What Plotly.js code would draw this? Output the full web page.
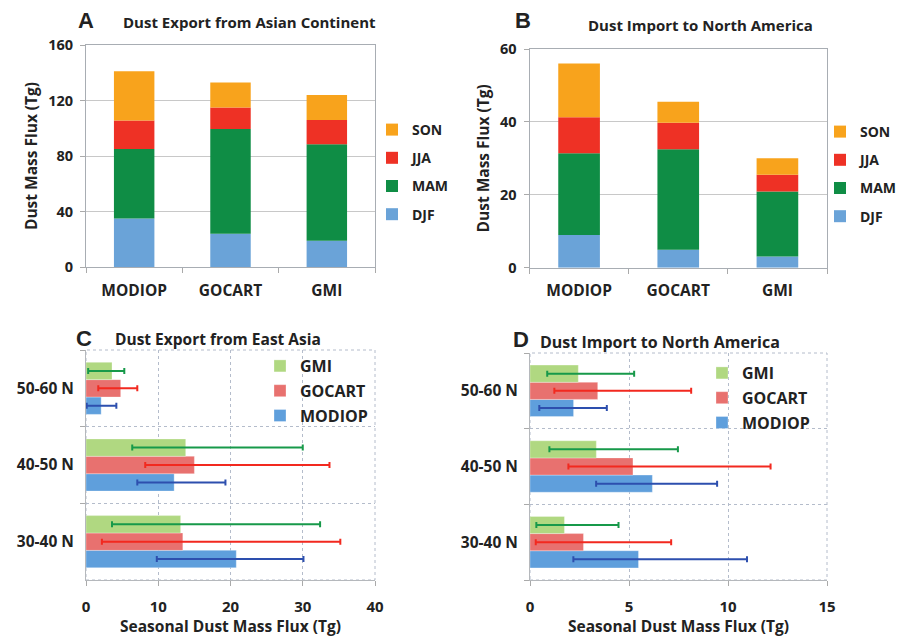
<!DOCTYPE html>
<html><head><meta charset="utf-8">
<script src="https://cdn.plot.ly/plotly-3.0.1.min.js"></script>
<style>html,body{margin:0;padding:0;background:#fff}#chart{width:915px;height:637px}</style>
</head><body><div id="chart"></div>
<script>
// ---- data ----
const models = ['MODIOP', 'GOCART', 'GMI'];
const seasonNames = ['DJF', 'MAM', 'JJA', 'SON'];
const exportDJF = [35, 24, 19];
const exportMAM = [50, 75.5, 69.5];
const exportJJA = [20.5, 15.5, 17.5];
const exportSON = [35.5, 18, 18];
const importDJF = [9, 4.9, 3.1];
const importMAM = [22.4, 27.6, 17.8];
const importJJA = [9.9, 7.3, 4.6];
const importSON = [14.7, 5.7, 4.5];

const latBands = ['30-40 N', '40-50 N', '50-60 N'];
// panel C (Dust Export from East Asia)
const eastAsiaMODIOP = [20.8, 12.2, 2.1];
const eastAsiaMODIOPplus = [9.3, 7.1, 2.1];
const eastAsiaMODIOPminus = [11.0, 5.1, 2.0];
const eastAsiaGOCART = [13.4, 15.0, 4.8];
const eastAsiaGOCARTplus = [21.8, 18.7, 2.3];
const eastAsiaGOCARTminus = [11.2, 6.8, 3.1];
const eastAsiaGMI = [13.1, 13.8, 3.6];
const eastAsiaGMIplus = [19.3, 16.2, 1.7];
const eastAsiaGMIminus = [9.5, 7.4, 3.3];
// panel D (Dust Import to North America)
const naMODIOP = [5.48, 6.18, 2.2];
const naMODIOPplus = [5.48, 3.27, 1.68];
const naMODIOPminus = [3.29, 2.84, 1.73];
const naGOCART = [2.7, 5.2, 3.42];
const naGOCARTplus = [4.43, 6.95, 4.72];
const naGOCARTminus = [2.41, 3.26, 2.19];
const naGMI = [1.74, 3.35, 2.44];
const naGMIplus = [2.73, 4.12, 2.82];
const naGMIminus = [1.42, 2.37, 1.57];

// ---- styles ----
const FONT = 'Open Sans, sans-serif';
const seasonColors = {DJF: '#6aa3d8', MAM: '#0f8d45', JJA: '#ee3125', SON: '#f8a31c'};
const modelFill = {MODIOP: '#5f9fdc', GOCART: '#e8716f', GMI: '#b0d881'};
const modelErr = {MODIOP: '#2d4fae', GOCART: '#f2291f', GMI: '#17994a'};

function stackTraces(series, xa, ya, leg) {
  const out = [];
  let base = [0, 0, 0];
  series.forEach((vals, i) => {
    const name = seasonNames[i];
    out.push({
      type: 'bar', x: models, y: vals, base: base.slice(), name: name,
      xaxis: xa, yaxis: ya, legend: leg, legendgroup: leg + name, legendrank: 10 - i,
      width: 0.42, offset: -0.21,
      marker: {color: seasonColors[name], line: {width: 0}},
      hoverinfo: 'skip'
    });
    base = base.map((b, k) => b + vals[k]);
  });
  return out;
}

function hbarTraces(groups, xa, ya, leg) {
  return groups.map((g, i) => ({
    type: 'bar', orientation: 'h', y: latBands, x: g.v, name: g.name,
    xaxis: xa, yaxis: ya, legend: leg, legendgroup: leg + g.name, legendrank: 10 - i,
    marker: {color: modelFill[g.name], line: {color: 'rgba(255,255,255,0.6)', width: 0.5}},
    error_x: {type: 'data', symmetric: false, array: g.p, arrayminus: g.m,
              color: modelErr[g.name], thickness: 2, width: 3},
    hoverinfo: 'skip'
  }));
}

const traces = [].concat(
  stackTraces([exportDJF, exportMAM, exportJJA, exportSON], 'x', 'y', 'legend'),
  stackTraces([importDJF, importMAM, importJJA, importSON], 'x2', 'y2', 'legend2'),
  hbarTraces([
    {name: 'MODIOP', v: eastAsiaMODIOP, p: eastAsiaMODIOPplus, m: eastAsiaMODIOPminus},
    {name: 'GOCART', v: eastAsiaGOCART, p: eastAsiaGOCARTplus, m: eastAsiaGOCARTminus},
    {name: 'GMI', v: eastAsiaGMI, p: eastAsiaGMIplus, m: eastAsiaGMIminus}
  ], 'x3', 'y3', 'legend3'),
  hbarTraces([
    {name: 'MODIOP', v: naMODIOP, p: naMODIOPplus, m: naMODIOPminus},
    {name: 'GOCART', v: naGOCART, p: naGOCARTplus, m: naGOCARTminus},
    {name: 'GMI', v: naGMI, p: naGMIplus, m: naGMIminus}
  ], 'x4', 'y4', 'legend4')
);

const W = 915, H = 637;
const px = v => v / W;
const py = v => 1 - v / H;

const tickFont = {family: FONT, size: 14.5, color: '#222', weight: 700};
const catFont = {family: FONT, size: 15.5, color: '#222', weight: 700};
const axTitleFont = {family: FONT, size: 15.5, color: '#222', weight: 700};

function catX(dom, anchor) {
  return {domain: dom, anchor: anchor, type: 'category', tickson: 'boundaries',
    ticks: 'outside', ticklen: 5, tickcolor: '#aaa', showline: true, linecolor: '#a8adb3',
    linewidth: 1, mirror: true, showgrid: false, tickfont: catFont, ticklabelstandoff: 9};
}
function valY(dom, anchor, range, dtick, title) {
  return {domain: dom, anchor: anchor, range: range, dtick: dtick, ticks: 'outside',
    ticklen: 5, tickcolor: '#aaa', showline: true, linecolor: '#a8adb3', mirror: true,
    gridcolor: '#c8c8c8', zeroline: false, tickfont: tickFont, ticklabelstandoff: 4,
    title: {text: title, font: axTitleFont, standoff: 6}};
}
function valX(dom, anchor, range, dtick) {
  return {domain: dom, anchor: anchor, range: range, dtick: dtick, ticks: 'outside',
    ticklen: 5, tickcolor: '#aaa', showline: true, linecolor: '#b5b8bc',
    showgrid: true, gridcolor: '#b4bccb', griddash: 'dot', zeroline: false,
    tickfont: {family: FONT, size: 15, color: '#222', weight: 700},
    ticklabelstandoff: 8,
    title: {text: 'Seasonal Dust Mass Flux (Tg)', font: {family: FONT, size: 15.5, color: '#222', weight: 700}, standoff: 4}};
}
function catY(dom, anchor) {
  return {domain: dom, anchor: anchor, type: 'category', tickson: 'boundaries',
    ticks: 'outside', ticklen: 5, tickcolor: '#aaa', showline: true, linecolor: '#b5b8bc',
    showgrid: true, gridcolor: '#b4bccb', griddash: 'dot', tickfont: catFont,
    ticklabelstandoff: 8};
}
function legendAt(x, y, size, gap) {
  return {x: x, y: y, xanchor: 'left', yanchor: 'top', bgcolor: 'rgba(0,0,0,0)',
    traceorder: 'grouped', tracegroupgap: gap, itemwidth: 30,
    font: {family: FONT, size: size, color: '#222', weight: 700}};
}
function note(text, x, y, size, fam) {
  return {text: text, x: px(x), y: py(y), xref: 'paper', yref: 'paper', showarrow: false,
    xanchor: 'center', yanchor: 'middle',
    font: {family: fam || FONT, size: size, color: '#222', weight: 700}};
}

const layout = {
  width: W, height: H, margin: {l: 0, r: 0, t: 0, b: 0},
  paper_bgcolor: '#fff', plot_bgcolor: '#fff',
  barmode: 'group', bargap: 0.32, bargroupgap: 0,
  showlegend: true,
  xaxis: catX([px(86), px(375)], 'y'),
  yaxis: valY([py(267), py(45)], 'x', [0, 160], 40, 'Dust Mass Flux (Tg)'),
  xaxis2: catX([px(529.5), px(827)], 'y2'),
  yaxis2: valY([py(267.7), py(49)], 'x2', [0, 60], 20, 'Dust Mass Flux (Tg)'),
  xaxis3: valX([px(86), px(375)], 'y3', [0, 40], 10),
  yaxis3: catY([py(580), py(350)], 'x3'),
  xaxis4: valX([px(530), px(827)], 'y4', [0, 15], 5),
  yaxis4: catY([py(580), py(353)], 'x4'),
  legend: legendAt(px(372), py(114), 14, 7),
  legend2: legendAt(px(820), py(116), 14, 7),
  legend3: legendAt(px(260), py(349), 16, 1),
  legend4: legendAt(px(702), py(356), 16, 1),
  shapes: [
    {type: 'rect', xref: 'x3 domain', yref: 'y3 domain', x0: 0, x1: 1, y0: 0, y1: 1,
     line: {color: '#b4bccb', width: 1, dash: 'dot'}, layer: 'below'},
    {type: 'rect', xref: 'x4 domain', yref: 'y4 domain', x0: 0, x1: 1, y0: 0, y1: 1,
     line: {color: '#b4bccb', width: 1, dash: 'dot'}, layer: 'below'}
  ],
  annotations: [
    note('A', 86, 21, 22, 'Liberation Sans, Arial'),
    note('Dust Export from Asian Continent', 249, 22, 15),
    note('B', 523, 21, 22, 'Liberation Sans, Arial'),
    note('Dust Import to North America', 700, 25, 15),
    note('C', 84, 338, 22, 'Liberation Sans, Arial'),
    note('Dust Export from East Asia', 218, 339, 15.5),
    note('D', 521, 339, 22, 'Liberation Sans, Arial'),
    note('Dust Import to North America', 660, 342, 16)
  ]
};

Plotly.newPlot('chart', traces, layout, {displayModeBar: false, staticPlot: true});
</script>
</body></html>
